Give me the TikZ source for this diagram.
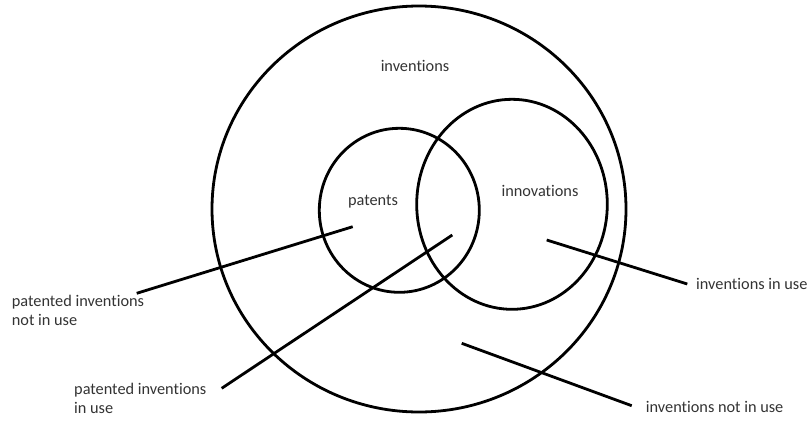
\documentclass[tikz,border=0pt]{standalone}
\usepackage{fontspec}
\setmainfont{Carlito}[Ligatures={NoCommon,NoContextual}]
\begin{document}
\begin{tikzpicture}[x=1pt,y=-1pt,
  ring/.style={draw=black,line width=2.8pt},
  pointer/.style={draw=black,line width=2.8pt},
  lbl/.style={inner sep=0pt,text=black!80,font=\fontsize{16.3}{19}\selectfont},
  side/.style={lbl,anchor=west,align=left}]
\useasboundingbox (0,0) rectangle (811,421);
% the three sets
\draw[ring] (419,209) ellipse [x radius=207, y radius=203];
\draw[ring] (399.3,210.3) ellipse [x radius=80, y radius=82];
\draw[ring] (512,204.3) ellipse [x radius=95.3, y radius=105];
% set names
\node[lbl] (inv) at (415,66) {inventions};
\node[lbl] (pat) at (373,202) {patents};
\node[lbl] (inn) at (540,191) {innovations};
% region labels
\node[side] (pnu) at (11.7,310) {patented inventions\\not in use};
\node[side] (pu)  at (74,398.8) {patented inventions\\in use};
\node[side] (iu)  at (696,284) {inventions in use};
\node[side] (inu) at (645.7,407.3) {inventions not in use};
% pointer ends
\coordinate (a1) at (352.7,226.7); \coordinate (a2) at (136.7,293.3);
\coordinate (b1) at (452.3,235);   \coordinate (b2) at (221.7,388.3);
\coordinate (c1) at (546.7,240);   \coordinate (c2) at (687.3,284);
\coordinate (d1) at (461.7,343.3); \coordinate (d2) at (631.7,405.7);
\draw[pointer] (a1) -- (a2);
\draw[pointer] (b1) -- (b2);
\draw[pointer] (c1) -- (c2);
\draw[pointer] (d1) -- (d2);
\end{tikzpicture}
\end{document}
